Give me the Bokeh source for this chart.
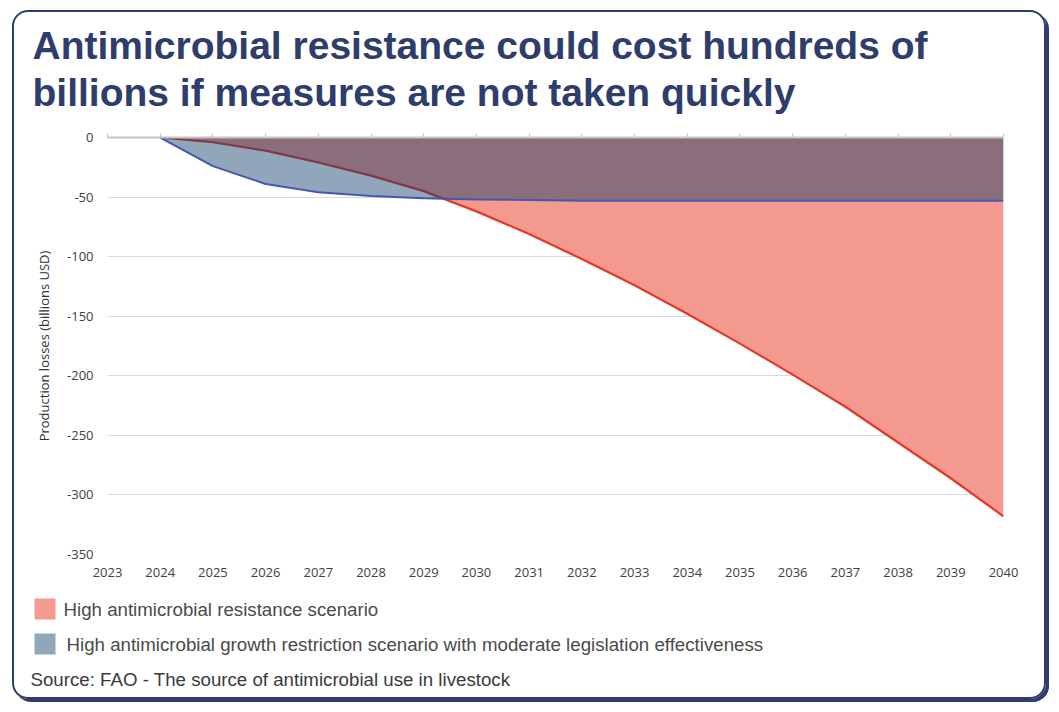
from bokeh.plotting import figure
from bokeh.layouts import column
from bokeh.models import (Range1d, FixedTicker, LinearAxis, Label, BoxAnnotation,
                          ColumnDataSource, InlineStyleSheet, CustomJSTickFormatter)
from bokeh.embed import file_html
from bokeh.resources import INLINE

# ---------------- data ----------------
title_lines = ["Antimicrobial resistance could cost hundreds of",
               "billions if measures are not taken quickly"]
axis_years = list(range(2023, 2041))
series_years = list(range(2024, 2041))
high_resistance = [0, -4, -11, -21, -32, -45, -62, -81, -102, -124, -148,
                   -173, -199, -226, -256, -286, -318]
growth_restriction = [0, -24, -39, -46, -49, -51, -52, -52.5, -53, -53, -53,
                      -53, -53, -53, -53, -53, -53]
y_ticks = [0, -50, -100, -150, -200, -250, -300, -350]
legend_labels = ["High antimicrobial resistance scenario",
                 "High antimicrobial growth restriction scenario with moderate legislation effectiveness"]
y_label = "Production losses (billions USD)"
source_text = "Source: FAO - The source of antimicrobial use in livestock"

# ---------------- style / layout ----------------
W = 1059
H_TOP = 590          # chart part
H_BOT = 712 - H_TOP  # legend + source part
FL, FR, FT, FB = 107, 1003, 137, 554  # frame edges in canvas pixels

NAVY = "#2E3D6B"
RED_FILL = "#F4998D"
RED_LINE = "#E2392B"
BLUE_FILL = "#0B3966"
BLUE_ALPHA = 0.45
BLUE_SWATCH = "#91A6BA"
BLUE_LINE = "#4458B2"

p = figure(width=W, height=H_TOP, output_backend="svg", toolbar_location=None,
           x_range=Range1d(2023, 2040), y_range=Range1d(-350, 0),
           min_border_left=FL, min_border_right=W - FR,
           min_border_top=FT, min_border_bottom=H_TOP - FB)
p.background_fill_color = "white"
p.border_fill_color = "white"
p.outline_line_color = None

src = ColumnDataSource(dict(x=series_years, red=high_resistance,
                            blue=growth_restriction,
                            zero=[0] * len(series_years)))

p.varea(x="x", y1="zero", y2="red", source=src, fill_color=RED_FILL)
p.line(x="x", y="red", source=src, line_color=RED_LINE, line_width=2.2)
p.varea(x="x", y1="zero", y2="blue", source=src, fill_color=BLUE_FILL,
        fill_alpha=BLUE_ALPHA)
p.line(x="x", y="blue", source=src, line_color=BLUE_LINE, line_width=2)

# axes
p.xaxis.ticker = FixedTicker(ticks=axis_years)
p.xaxis.axis_line_color = None
p.xaxis.major_tick_line_color = None
p.xaxis.minor_tick_line_color = None
p.xaxis.major_tick_out = 0
p.xaxis.major_label_standoff = 13
p.xaxis.major_label_text_font = "Open Sans"
p.xaxis.major_label_text_font_size = "13px"
p.xaxis.major_label_text_color = "#404040"

p.yaxis.ticker = FixedTicker(ticks=y_ticks)
p.yaxis.formatter = CustomJSTickFormatter(code="return tick.toString()")
p.yaxis.axis_line_color = None
p.yaxis.major_tick_line_color = None
p.yaxis.minor_tick_line_color = None
p.yaxis.major_tick_out = 0
p.yaxis.major_label_standoff = 14
p.yaxis.major_label_text_font = "Open Sans"
p.yaxis.major_label_text_font_size = "13px"
p.yaxis.major_label_text_color = "#404040"
p.yaxis.axis_label = y_label
p.yaxis.axis_label_text_font = "Open Sans"
p.yaxis.axis_label_text_font_size = "13px"
p.yaxis.axis_label_text_font_style = "normal"
p.yaxis.axis_label_text_color = "#303030"
p.yaxis.axis_label_standoff = 11

p.xgrid.grid_line_color = None
p.ygrid.grid_line_color = "#D9D9D9"
p.ygrid.grid_line_width = 1

top_axis = LinearAxis(ticker=FixedTicker(ticks=axis_years))
top_axis.axis_line_color = "#C4C4C4"
top_axis.axis_line_width = 2
top_axis.major_tick_line_color = "#C4C4C4"
top_axis.major_tick_out = 4
top_axis.major_tick_in = 0
top_axis.minor_tick_line_color = None
top_axis.major_label_text_font_size = "0px"
top_axis.major_label_standoff = 0
top_axis.major_label_text_color = None
p.add_layout(top_axis, "above")

# title (two lines)
p.title.text = "\n".join(title_lines)
p.title.align = "left"
p.title.offset = 32 - FL
p.title.text_font = "Liberation Sans"
p.title.text_font_style = "bold"
p.title.text_font_size = "39px"
p.title.text_line_height = 1.1
p.title.text_color = NAVY
p.title.standoff = 39

# ---------------- footer: legend + source ----------------
f = figure(width=W, height=H_BOT, output_backend="svg", toolbar_location=None,
           x_range=Range1d(0, 1), y_range=Range1d(0, 1),
           x_axis_type=None, y_axis_type=None,
           min_border_left=0, min_border_right=0, min_border_top=0, min_border_bottom=0)
f.grid.visible = False
f.outline_line_color = None
f.background_fill_color = "white"
f.border_fill_color = "white"
# the column aligns the footer's frame with the chart frame (left edge at FL);
# shift the footer canvas so that its frame starts at the page's left edge
f.styles = {"position": "relative", "left": f"-{FL}px"}


def fy(cy):
    """canvas y (page pixels) -> footer screen y (from footer bottom)"""
    return H_BOT - (cy - H_TOP)


swatches = [RED_FILL, BLUE_SWATCH]
text_x = [63, 66]
for i, (lab, col) in enumerate(zip(legend_labels, swatches)):
    yc = 608.5 + 35 * i
    f.add_layout(BoxAnnotation(left=34, right=55, top=fy(yc - 10.5), bottom=fy(yc + 10.5),
                               left_units="screen", right_units="screen",
                               top_units="screen", bottom_units="screen",
                               fill_color=col, fill_alpha=1.0, line_color=None))
    f.add_layout(Label(x=text_x[i], y=fy(yc), x_units="screen", y_units="screen",
                       text=lab, text_font="Liberation Sans", text_font_size="18.7px",
                       text_color="#4A4A4A", text_baseline="middle", text_align="left"))

f.add_layout(Label(x=30, y=fy(679), x_units="screen", y_units="screen",
                   text=source_text, text_font="Liberation Sans", text_font_size="18.7px",
                   text_color="#3A3A3A", text_baseline="middle", text_align="left"))

card_css = (":host { position: relative; } "
            ":host::after { content: ''; position: absolute; left: 12px; top: 10px; "
            "width: 1030px; height: 685px; border: 2px solid " + NAVY + "; "
            "border-radius: 16px; box-shadow: 3px 3px 0 " + NAVY + "; pointer-events: none; }")

page = column(p, f, spacing=0, stylesheets=[InlineStyleSheet(css=card_css)])

open("out.html", "w").write(file_html(page, INLINE))
